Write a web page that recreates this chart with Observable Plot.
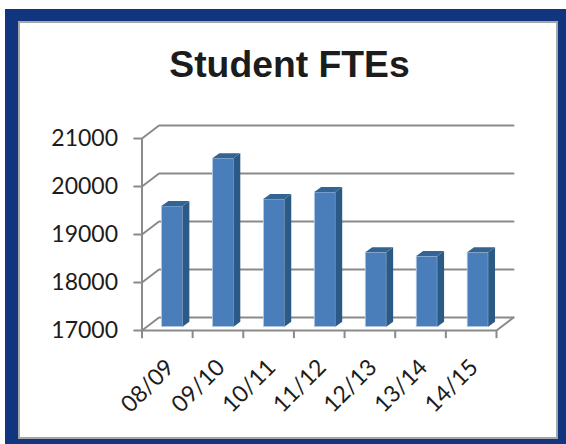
<!DOCTYPE html>
<html>
<head>
<meta charset="utf-8">
<script src="https://cdn.jsdelivr.net/npm/d3@7"></script>
<script src="https://cdn.jsdelivr.net/npm/@observablehq/plot@0.6"></script>
<style>
html,body{margin:0;padding:0;background:#fff;width:566px;height:444px;overflow:hidden}
#frame{position:absolute;left:5px;top:9px;width:561px;height:435px;background:#12357f}
#panel{position:absolute;left:13px;top:12px;width:536px;height:414px;background:#fff;border:2px solid #a6a6a6}
#title{position:absolute;left:0;top:40px;width:579px;text-align:center;font:bold 37.3px "Liberation Sans",Arial,sans-serif;color:#1c1c1c;line-height:48px}
#chart{position:absolute;left:0;top:0}
</style>
</head>
<body>
<div id="frame"><div id="panel"></div></div>
<div id="title">Student FTEs</div>
<div id="chart"></div>
<script>
const categories = ["08/09","09/10","10/11","11/12","12/13","13/14","14/15"];
const values = [19515, 20510, 19660, 19805, 18550, 18470, 18550];
const yTicks = [17000, 18000, 19000, 20000, 21000];

// Depth projection, in data units
const wallDX = 0.336, wallDY = 270;
const barDX = 0.135, barDY = 104;
const barLeft = 0.395, barWidth = 0.415, barBase = 70, barStep = 1.006;

const rows = values.map((v, i) => ({
  cat: categories[i], v,
  xl: i * barStep + barLeft, xr: i * barStep + barLeft + barWidth,
  top: v + barBase
}));

const sidePts = rows.flatMap(r => [
  {z: r.cat, x: r.xr, y1: 17000 + barBase, y2: r.top},
  {z: r.cat, x: r.xr + barDX, y1: 17000 + barBase + barDY, y2: r.top + barDY}
]);
const topPts = rows.flatMap(r => [
  {z: r.cat, x: r.xl, y1: r.top, y2: r.top},
  {z: r.cat, x: r.xl + barDX, y1: r.top, y2: r.top + barDY},
  {z: r.cat, x: r.xr, y1: r.top, y2: r.top + barDY},
  {z: r.cat, x: r.xr + barDX, y1: r.top + barDY, y2: r.top + barDY}
]);
const gridPts = yTicks.flatMap(t => [
  {z: t, x: 0, y: t},
  {z: t, x: wallDX, y: t + wallDY},
  {z: t, x: 7 + wallDX, y: t + wallDY}
]);
const floorEnd = [
  {x: 7, y: 17000},
  {x: 7 + wallDX, y: 17000 + wallDY}
];
const gray = "#8a8a8a";
const sw = 2;

const plot = Plot.plot({
  width: 566, height: 444,
  margin: 0,
  style: {background: "transparent", overflow: "visible"},
  x: {type: "linear", domain: [0, 7], range: [141.5, 496], axis: null},
  y: {type: "linear", domain: [17000, 21000], range: [330, 138], axis: null},
  marks: [
    Plot.line(gridPts, {x: "x", y: "y", z: "z", stroke: gray, strokeWidth: sw, curve: "linear"}),
    Plot.line(floorEnd, {x: "x", y: "y", stroke: gray, strokeWidth: sw}),
    Plot.ruleX([0], {y1: 17000, y2: 21000, stroke: gray, strokeWidth: sw}),
    Plot.ruleY([17000], {x1: 0, x2: 7, stroke: gray, strokeWidth: sw}),
    Plot.ruleY(yTicks, {y: d => d, x1: -0.16, x2: 0, stroke: gray, strokeWidth: sw}),
    Plot.ruleX(d3.range(0, 8), {x: d => d, y1: 17000, y2: 16830, stroke: gray, strokeWidth: sw}),
    Plot.rect(rows, {x1: "xl", x2: "xr", y1: 17000 + barBase, y2: "top", fill: "#4a7ebb", stroke: "#b9cde5", strokeWidth: 0.8}),
    Plot.areaY(sidePts, {x: "x", y1: "y1", y2: "y2", z: "z", fill: "#2c5a87"}),
    Plot.areaY(topPts, {x: "x", y1: "y1", y2: "y2", z: "z", fill: "#336494"}),
    Plot.text(yTicks, {x: 0, y: d => d, text: d => String(d), textAnchor: "end", dx: -24, fontSize: 23, fontFamily: "Lato", fill: "#1c1c1c"}),
    Plot.text(categories, {x: (d, i) => i + 0.5, y: 17000, text: d => d, rotate: -45, textAnchor: "end", dx: 3, dy: 33, fontSize: 23, fontFamily: "Lato", fill: "#1c1c1c"})
  ]
});
document.getElementById("chart").appendChild(plot);
</script>
</body>
</html>
